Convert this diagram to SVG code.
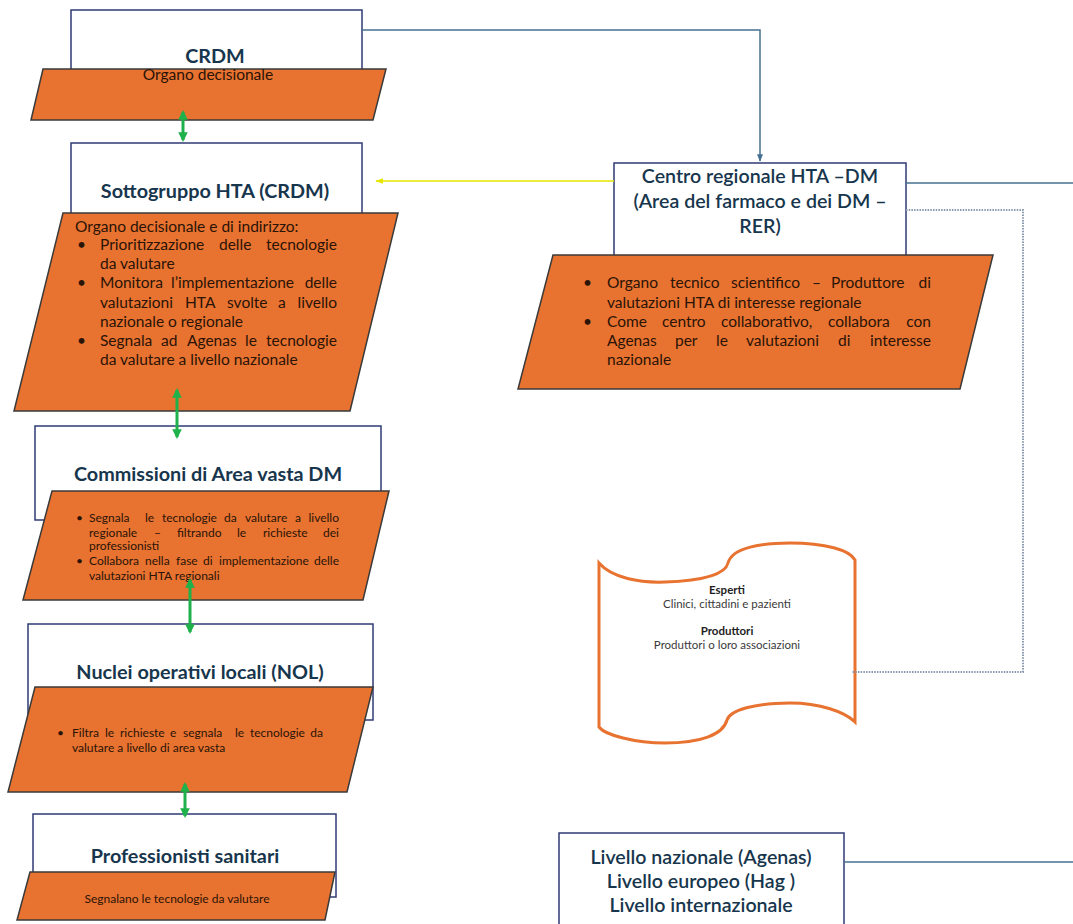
<svg xmlns="http://www.w3.org/2000/svg" width="1073" height="924" viewBox="0 0 1073 924">
<style>
.box{fill:#fff;stroke:#2f3b73;stroke-width:1.5}
.para{fill:#E8722F;stroke:#3a3a3a;stroke-width:1.5}
.title{font-family:Lato,"Liberation Sans",sans-serif;font-weight:700;font-size:19.8px;fill:#17364d;text-anchor:middle}
.sub{font-family:Lato,"Liberation Sans",sans-serif;font-weight:600;font-size:19.6px;fill:#17364d;text-anchor:middle}
.body{font-family:Lato,"Liberation Sans",sans-serif;font-size:15.5px;fill:#2a1408}
.small{font-family:Lato,"Liberation Sans",sans-serif;font-size:12px;fill:#2a1408}
.end{text-anchor:end}
.mid{text-anchor:middle}
.ban{font-family:Lato,"Liberation Sans",sans-serif;font-size:11.5px;fill:#3a3a3a;text-anchor:middle}
.banb{font-weight:700;fill:#1e1e1e}
.green{fill:none;stroke:#1fb14a;stroke-width:3;marker-start:url(#ga);marker-end:url(#ga)}
.blue{fill:none;stroke:#44708f;stroke-width:1.5}
</style>
<defs>
<marker id="ga" viewBox="0 0 10 10" refX="8" refY="5" markerWidth="3.2" markerHeight="3.2" orient="auto-start-reverse"><path d="M0,0 L10,5 L0,10 z" fill="#1fb14a"/></marker>
<marker id="ba" viewBox="0 0 10 10" refX="9" refY="5" markerWidth="5" markerHeight="5" orient="auto"><path d="M0,1 L10,5 L0,9 z" fill="#44708f"/></marker>
<marker id="ya" viewBox="0 0 10 10" refX="9" refY="5" markerWidth="6" markerHeight="6" orient="auto"><path d="M0,1.5 L10,5 L0,8.5 z" fill="#e6e600"/></marker>
</defs>
<rect width="1073" height="924" fill="#fff"/>

<g id="crdm">
<rect class="box" x="71" y="10" width="291" height="70"/>
<polygon class="para" points="43,69 386,69 373,120 31,120"/>
<text class="title" x="215" y="63">CRDM</text>
<text class="body mid" x="208" y="80">Organo decisionale</text>
</g>

<g id="sottogruppo">
<rect class="box" x="71" y="143" width="291" height="80"/>
<polygon class="para" points="63,213 398,213 350,411 14,411"/>
<text class="title" x="215" y="198">Sottogruppo HTA (CRDM)</text>
<text class="body" x="75" y="232">Organo decisionale e di indirizzo:</text>
<text class="body" x="77" y="250">•</text>
<text class="body" y="250"><tspan x="100">Prioritizzazione</tspan><tspan x="219">delle</tspan></text>
<text class="body end" x="337" y="250">tecnologie</text>
<text class="body" x="100" y="269">da valutare</text>
<text class="body" x="77" y="288">•</text>
<text class="body" y="288"><tspan x="100">Monitora</tspan><tspan x="171">l’implementazione</tspan></text>
<text class="body end" x="337" y="288">delle</text>
<text class="body" y="308"><tspan x="100">valutazioni</tspan><tspan x="185">HTA</tspan><tspan x="227">svolte</tspan><tspan x="278">a</tspan></text>
<text class="body end" x="337" y="308">livello</text>
<text class="body" x="100" y="327">nazionale o regionale</text>
<text class="body" x="77" y="346">•</text>
<text class="body" y="346"><tspan x="100">Segnala</tspan><tspan x="161">ad</tspan><tspan x="187">Agenas</tspan><tspan x="245">le</tspan></text>
<text class="body end" x="337" y="346">tecnologie</text>
<text class="body" x="100" y="365">da valutare a livello nazionale</text>
</g>

<g id="commissioni">
<rect class="box" x="35" y="426" width="346" height="94"/>
<polygon class="para" points="52,491 389,491 363,600 23,600"/>
<text class="title" x="208" y="481">Commissioni di Area vasta DM</text>
<text class="small" x="76" y="522">•</text>
<text class="small" y="522"><tspan x="89">Segnala</tspan><tspan x="145">le</tspan><tspan x="162">tecnologie</tspan><tspan x="224">da</tspan><tspan x="245">valutare</tspan><tspan x="295">a</tspan></text>
<text class="small end" x="339" y="522">livello</text>
<text class="small" y="537"><tspan x="89">regionale</tspan><tspan x="154">–</tspan><tspan x="177">filtrando</tspan><tspan x="237">le</tspan><tspan x="263">richieste</tspan></text>
<text class="small end" x="339" y="537">dei</text>
<text class="small" x="89" y="550">professionisti</text>
<text class="small" x="76" y="565">•</text>
<text class="small" y="565"><tspan x="89">Collabora</tspan><tspan x="145">nella</tspan><tspan x="176">fase</tspan><tspan x="203">di</tspan><tspan x="219">implementazione</tspan></text>
<text class="small end" x="339" y="565">delle</text>
<text class="small" x="89" y="580">valutazioni HTA regionali</text>
</g>

<g id="nol">
<rect class="box" x="28" y="624" width="345" height="96"/>
<polygon class="para" points="35,687 373,687 347,792 8,792"/>
<text class="title" x="200" y="679">Nuclei operativi locali (NOL)</text>
<text class="small" x="57" y="737">•</text>
<text class="small" y="737"><tspan x="72">Filtra</tspan><tspan x="105">le</tspan><tspan x="120">richieste</tspan><tspan x="170">e</tspan><tspan x="183">segnala</tspan><tspan x="235">le</tspan><tspan x="250">tecnologie</tspan></text>
<text class="small end" x="323" y="737">da</text>
<text class="small" x="72" y="752">valutare a livello di area vasta</text>
</g>

<g id="professionisti">
<rect class="box" x="33" y="814" width="303" height="83"/>
<polygon class="para" points="30,872 335,872 325,920 17,920"/>
<text class="title" x="185" y="863">Professionisti sanitari</text>
<text class="small mid" x="177" y="903">Segnalano le tecnologie da valutare</text>
</g>

<g id="centro">
<rect class="box" x="614" y="163" width="292" height="100"/>
<polygon class="para" points="553,255 993,255 960,389 518,389"/>
<text class="sub" x="760" y="183">Centro regionale HTA –DM</text>
<text class="sub" x="760" y="208">(Area del farmaco e dei DM –</text>
<text class="sub" x="760" y="233">RER)</text>
<text class="body" x="583" y="288">•</text>
<text class="body" y="288"><tspan x="607">Organo</tspan><tspan x="670">tecnico</tspan><tspan x="731">scientifico</tspan><tspan x="812">–</tspan><tspan x="831">Produttore</tspan></text>
<text class="body end" x="931" y="288">di</text>
<text class="body" x="607" y="308">valutazioni HTA di interesse regionale</text>
<text class="body" x="583" y="327">•</text>
<text class="body" y="327"><tspan x="607">Come</tspan><tspan x="662">centro</tspan><tspan x="721">collaborativo,</tspan><tspan x="828">collabora</tspan></text>
<text class="body end" x="931" y="327">con</text>
<text class="body" y="346"><tspan x="607">Agenas</tspan><tspan x="675">per</tspan><tspan x="716">le</tspan><tspan x="746">valutazioni</tspan><tspan x="838">di</tspan></text>
<text class="body end" x="931" y="346">interesse</text>
<text class="body" x="607" y="365">nazionale</text>
</g>

<g id="esperti">
<path d="M599,563 C612,578 640,583 665,582 C700,581 725,575 728,563 C732,548 760,543 790,543 C825,543 850,550 855,560 L855,722 C845,712 820,703 790,703 C755,703 730,710 727,720 C723,735 700,743 665,743 C635,743 605,735 599,727 Z" fill="#fff" stroke="#E8722F" stroke-width="3"/>
<text class="ban banb" x="727" y="594">Esperti</text>
<text class="ban" x="727" y="608">Clinici, cittadini e pazienti</text>
<text class="ban banb" x="727" y="635">Produttori</text>
<text class="ban" x="727" y="649">Produttori o loro associazioni</text>
</g>

<g id="livello">
<rect class="box" x="559" y="833" width="285" height="100"/>
<text class="sub" x="701" y="864">Livello nazionale (Agenas)</text>
<text class="sub" x="701" y="888">Livello europeo (Hag )</text>
<text class="sub" x="701" y="912">Livello internazionale</text>
</g>

<g id="connectors">
<path class="blue" d="M362,30 H760 V161" marker-end="url(#ba)"/>
<path d="M614,181 H376" fill="none" stroke="#e6e600" stroke-width="1.3" marker-end="url(#ya)"/>
<path class="blue" d="M906,183 H1073"/>
<path class="blue" d="M844,862 H1073"/>
<path d="M906,210 H1023 V672 H852" fill="none" stroke="#8a9ab0" stroke-width="2" stroke-dasharray="1.5 1.2"/>
<line class="green" x1="183" y1="112" x2="183" y2="140"/>
<line class="green" x1="177" y1="390" x2="177" y2="437"/>
<line class="green" x1="190" y1="580" x2="190" y2="632"/>
<line class="green" x1="185" y1="784" x2="185" y2="816"/>
</g>
</svg>
